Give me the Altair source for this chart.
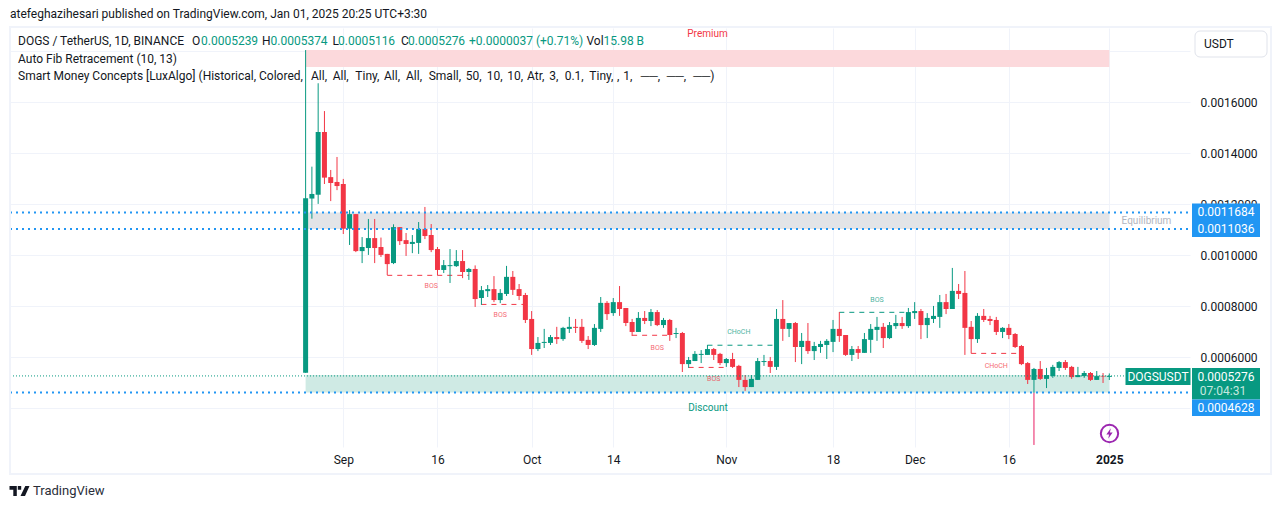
import altair as alt
import pandas as pd

# prices in millionths of USDT, one entry per daily candle from 2024-08-26
# (candle 116's low here is where its green wick stops; the pink spike below it is separate)
opens = [540,1223,1238,1484,1307,1288,1280,1105,1162,1017,1029,1068,1033,1006,970,1111,1060,1045,1049,1104,
         1080,1025,943,958,958,978,935,947,833,860,868,825,849,916,868,845,751,633,657,657,
         680,672,712,720,720,669,649,712,814,774,817,794,739,700,755,743,778,727,747,692,
         696,574,586,610,610,633,614,578,594,567,512,484,512,582,586,563,751,712,735,641,
         665,625,641,649,661,712,688,610,633,618,669,708,720,676,723,735,723,774,782,727,
         751,759,817,790,861,853,720,672,763,751,747,700,716,692,645,578,512,555,516,527,
         559,582,563,523,527,539,512,527,523.9]
highs = [1805,1348,1675,1566,1335,1386,1300,1178,1162,1072,1143,1143,1070,1006,1122,1111,1088,1080,1131,1190,
         1123,1033,982,1025,1021,1021,951,961,880,884,919,868,959,939,888,853,782,680,712,688,
         720,720,759,751,751,684,731,837,821,833,880,794,751,778,782,790,786,755,751,716,
         700,602,625,629,649,637,618,598,618,571,531,531,598,610,602,790,825,735,739,696,
         735,661,665,672,747,778,688,645,645,696,731,759,735,739,767,759,794,817,790,774,
         802,845,849,951,888,939,743,774,790,763,759,719,731,696,649,582,559,586,559,571,
         586,590,567,563,547,543,547,539,537.4]
lows = [540,1144,1202,1280,1213,1256,1084,1041,1013,970,1002,970,994,923,966,1041,998,1009,1006,1064,
        1013,923,931,892,955,911,904,798,806,837,817,813,841,845,825,735,610,625,637,649,
        653,665,696,696,657,633,645,700,747,763,763,723,684,700,731,723,723,716,665,676,
        543,559,586,578,610,590,570,563,559,484,469,484,512,567,539,551,665,680,582,574,
        614,590,618,594,621,661,606,586,594,618,618,665,637,672,712,712,716,751,672,676,
        735,716,770,790,829,610,616,657,739,727,688,676,672,637,570,496,461,512,480,520,
        547,551,516,523,520,508,512,500,511.6]
closes = [1224,1241,1484,1305,1284,1272,1105,1162,1017,1033,1068,1029,1002,966,1111,1056,1045,1053,1104,1076,
          1021,943,962,962,978,935,947,829,864,868,825,853,916,865,841,747,633,657,661,680,
          672,716,720,716,665,649,716,814,770,817,790,735,700,755,743,778,727,747,688,696,
          574,590,614,614,633,610,578,594,563,512,484,516,586,586,563,751,712,735,641,665,
          625,645,653,665,712,684,610,633,618,672,712,720,676,727,735,723,778,782,727,755,
          763,817,790,861,849,716,672,763,747,743,700,716,688,641,574,512,555,516,531,563,
          582,559,523,531,539,512,527,525,527.6]

# dashed structure lines: first candle, last candle, price, kind
struct_start = [13, 28, 52, 61, 64, 85, 106]
struct_end = [26, 35, 58, 67, 75, 96, 114]
struct_price = [922, 808, 687, 561, 648, 777, 616]
struct_kind = ["down", "down", "down", "down", "up", "up", "down"]

# structure labels: candle, price, text, kind
tag_at = [20, 31, 56, 65, 69, 91, 110]
tag_price = [880, 767, 637, 516, 700, 825, 567]
tag_text = ["BOS", "BOS", "BOS", "BOS", "CHoCH", "BOS", "CHoCH"]
tag_kind = ["down", "down", "down", "down", "up", "up", "down"]

# auto fib zones, millionths
zone_names = ["Premium", "Equilibrium", "Discount"]
zone_top = [1805, 1168.4, 531]
zone_bottom = [1739, 1103.6, 462.8]
zone_fill = ["#fcd9dc", "#e3e4e7", "#cfeae4"]
fib_levels = [1168.4, 1103.6, 462.8]
last_price = 527.6
spike_top = 461
spike_bottom = 257

price_ticks = [0.0004, 0.0006, 0.0008, 0.0010, 0.0012, 0.0014, 0.0016, 0.0018]
date_ticks = ["2024-09-01", "2024-09-16", "2024-10-01", "2024-10-14", "2024-11-01",
              "2024-11-18", "2024-12-01", "2024-12-16", "2025-01-01"]

smc_tokens = ["All,", "All,", "Tiny,", "All,", "All,", "Small,", "50,", "10,", "10,", "Atr,",
              "3,", "0.1,", "Tiny,", ",", "1,", "──,", "──,", "──)"]
smc_token_x = [311, 332.7, 355.3, 384, 406, 428.7, 465.7, 486.7, 507.3, 527,
               549.3, 564.7, 589.3, 617, 623.3, 640.7, 666.7, 693.3]

GREEN, RED, BLUE = "#089981", "#f23645", "#2196f3"
INK, GRID = "#131722", "#f0f3fa"
FONT = "Roboto"

days = pd.date_range("2024-08-26", periods=len(opens), freq="D")
iso = lambda d: d.strftime("%Y-%m-%dT00:00:00Z")
ms = lambda s: pd.Timestamp(s, tz="UTC").value // 10**6
DAY = 86400000
M = 1e-6

candles = pd.DataFrame({
    "date": [iso(d) for d in days],
    "open": [v * M for v in opens], "high": [v * M for v in highs],
    "low": [v * M for v in lows], "close": [v * M for v in closes],
    "kind": ["up" if c >= o else "down" for o, c in zip(opens, closes)],
})
zones = pd.DataFrame({
    "name": zone_names, "top": [v * M for v in zone_top], "bottom": [v * M for v in zone_bottom],
    "start": iso(days[0]), "end": iso(days[-1]), "fill": zone_fill,
})
struct = pd.DataFrame({
    "start": [iso(days[i]) for i in struct_start], "end": [iso(days[i]) for i in struct_end],
    "price": [v * M for v in struct_price], "kind": struct_kind,
})
tags = pd.DataFrame({
    "date": [iso(days[i]) for i in tag_at], "price": [v * M for v in tag_price],
    "text": tag_text, "kind": tag_kind,
})
levels = pd.DataFrame({"price": [v * M for v in fib_levels]})
spike = pd.DataFrame({"date": [iso(days[116])], "a": [spike_top * M], "b": [spike_bottom * M]})
last = pd.DataFrame({"price": [last_price * M]})
one = pd.DataFrame({"v": [0]})

PANE_L, PANE_R, PANE_T, PANE_B = 10, 1190, 28, 447
sep1 = ms("2024-09-01")
xs = alt.Scale(type="utc", domain=[sep1 + int(-53.08 * DAY), sep1 + int(134.85 * DAY)], nice=False, padding=0)
ys = alt.Scale(type="linear", domain=[249 * M, 1891.6 * M], nice=False, zero=False)
kind_color = alt.Scale(domain=["up", "down"], range=[GREEN, RED])

x_axis = alt.Axis(
    values=[ms(d) for d in date_ticks], grid=True, gridColor=GRID, domain=False, ticks=False,
    labelFont=FONT, labelFontSize=12, labelColor=INK, labelPadding=7, labelFlush=False,
    labelOverlap=False, title=None,
    labelExpr="utcdate(datum.value)==1 ? (utcmonth(datum.value)==0 ? ''+utcyear(datum.value) : utcFormat(datum.value,'%b')) : ''+utcdate(datum.value)",
    labelFontWeight={"condition": {"test": "utcmonth(datum.value)==0", "value": 700}, "value": 400},
)
y_axis = alt.Axis(
    values=price_ticks, orient="right", grid=True, gridColor=GRID, domain=False, ticks=False,
    labelFont=FONT, labelFontSize=12, labelColor=INK, labelPadding=10, labelOverlap=False,
    labelExpr="datum.value<0.0005 || datum.value>0.0017 ? '' : format(datum.value,'.7f')",
    title=None, labelFlush=False,
)

X = lambda f: alt.X(f, type="temporal", scale=xs, axis=x_axis, title=None)
Y = lambda f: alt.Y(f, type="quantitative", scale=ys, axis=y_axis, title=None)
KC = alt.Color("kind:N", scale=kind_color, legend=None)

def px(v): return alt.value(v - PANE_L)
def py(v): return alt.value(v - PANE_T)

def text(s, x, y, color=INK, size=12, align="left", weight=400):
    return alt.Chart(one).mark_text(align=align, baseline="middle", font=FONT, fontSize=size,
                                    fontWeight=weight, color=color).encode(
        x=px(x), y=py(y), text=alt.value(s))

def box(x0, y0, x1, y1, fill="transparent", stroke=None, sw=0, r=0):
    kw = dict(fill=fill, cornerRadius=r)
    if stroke:
        kw.update(stroke=stroke, strokeWidth=sw)
    return alt.Chart(one).mark_rect(**kw).encode(x=px(x0), x2=px(x1), y=py(y0), y2=py(y1))

zone_layer = alt.Chart(zones).mark_rect().encode(
    x=X("start"), x2="end:T", y=Y("bottom"), y2="top:Q",
    color=alt.Color("fill:N", scale=None),
)
wicks = alt.Chart(candles).mark_rule(strokeWidth=1).encode(x=X("date"), y=Y("low"), y2="high", color=KC)
bodies = alt.Chart(candles).mark_bar(size=5).encode(x=X("date"), y=Y("open"), y2="close", color=KC)
spike_layer = alt.Chart(spike).mark_rule(strokeWidth=1, color="#e91e63").encode(x=X("date"), y=Y("a"), y2="b")
struct_layer = alt.Chart(struct).mark_rule(strokeWidth=1, strokeDash=[5, 5]).encode(
    x=X("start"), x2="end", y=Y("price"), color=KC)
tag_layer = alt.Chart(tags).mark_text(font=FONT, fontSize=7, opacity=0.75).encode(
    x=X("date"), y=Y("price"), text="text:N", color=KC)
fib_layer = alt.Chart(levels).mark_rule(strokeWidth=2, strokeDash=[2, 4], color=BLUE).encode(
    x=px(PANE_L), x2=px(PANE_R), y=Y("price"))
last_layer = alt.Chart(last).mark_rule(strokeWidth=1, strokeDash=[1, 2], color=GREEN).encode(
    x=px(PANE_L), x2=px(1125), y=Y("price"))

bolt = "M0.25,-1 L-0.6,0.18 L-0.08,0.18 L-0.25,1 L0.6,-0.18 L0.08,-0.18 Z"
icon_ring = alt.Chart(one).mark_point(shape="circle", size=300, filled=False, stroke="#9c27b0",
                                      strokeWidth=2, opacity=1).encode(x=px(1109.5), y=py(433.5))
icon_bolt = alt.Chart(one).mark_point(shape=bolt, size=110, filled=True, fill="#9c27b0",
                                      opacity=1, strokeWidth=0).encode(x=px(1109.5), y=py(433.5))
logo_path = ("M-1,-0.5 L-0.27,-0.5 L-0.27,0.5 L-0.62,0.5 L-0.62,-0.12 L-1,-0.12 Z "
             "M-0.17,-0.5 L0.17,-0.5 L0.17,-0.12 L-0.17,-0.12 Z "
             "M0.58,-0.5 L1,-0.5 L0.55,0.5 L0.1,0.5 Z")
logo = alt.Chart(one).mark_point(shape=logo_path, size=400, filled=True, fill=INK,
                                 opacity=1, strokeWidth=0).encode(x=px(19.5), y=py(491))

overlay = [
    box(10, 27, 1271, 474, stroke=GRID, sw=2),
    box(1195, 31, 1267, 57, fill="#ffffff", stroke="#e0e3eb", sw=1, r=5),
    text("USDT", 1204, 44, size=12),
    text("atefeghazihesari published on TradingView.com, Jan 01, 2025 20:25 UTC+3:30", 10, 14, size=12),
    text("DOGS / TetherUS, 1D, BINANCE", 18, 41),
    text("O", 192, 41), text("0.0005239", 201, 41, GREEN),
    text("H", 262, 41), text("0.0005374", 270.5, 41, GREEN),
    text("L", 332.5, 41), text("0.0005116", 338, 41, GREEN),
    text("C", 401, 41), text("0.0005276", 408, 41, GREEN),
    text("+0.0000037 (+0.71%)", 469, 41, GREEN),
    text("Vol", 586.5, 41), text("15.98 B", 603.5, 41, GREEN),
    text("Auto Fib Retracement (10, 13)", 18, 59),
    text("Smart Money Concepts [LuxAlgo] (Historical, Colored,", 18, 76),
    *[text(t, x, 76) for t, x in zip(smc_tokens, smc_token_x)],
    text("Premium", 707.5, 34, RED, 10, "center"),
    text("Equilibrium", 1146.5, 221, "#b2b5be", 10, "center"),
    text("Discount", 708, 408, GREEN, 10, "center"),
    box(1192, 203.5, 1260, 237, fill=BLUE),
    text("0.0011684", 1226, 212, "#ffffff", 12, "center"),
    text("0.0011036", 1226, 229, "#ffffff", 12, "center"),
    box(1125.5, 368, 1190.5, 385, fill=GREEN),
    text("DOGSUSDT", 1158, 377, "#ffffff", 12, "center"),
    box(1192, 368, 1260, 399.5, fill=GREEN),
    text("0.0005276", 1226, 377, "#ffffff", 12, "center"),
    text("07:04:31", 1223, 391, "#c4e8df", 12, "center"),
    box(1192, 399.5, 1260, 416, fill=BLUE),
    text("0.0004628", 1226, 408, "#ffffff", 12, "center"),
    icon_ring, icon_bolt, logo,
    text("TradingView", 33, 491, "#2a2e39", 13),
]

chart = alt.layer(
    zone_layer, struct_layer, wicks, bodies, spike_layer, fib_layer, last_layer, tag_layer, *overlay
).resolve_axis(x="shared", y="shared").properties(
    width=PANE_R - PANE_L, height=PANE_B - PANE_T,
    autosize=alt.AutoSizeParams(type="none"),
    padding={"left": 2, "top": 20, "right": 83, "bottom": 51},
    background="#ffffff",
).configure_view(stroke=None)

chart.save("out.html", embed_options={"renderer": "svg", "actions": False})
